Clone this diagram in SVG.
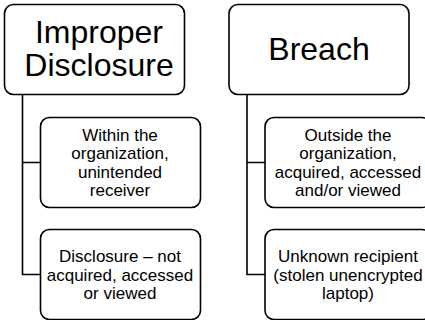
<svg xmlns="http://www.w3.org/2000/svg" width="425" height="320" viewBox="0 0 425 320">
<style>
.box{fill:#fff;stroke:#000;stroke-width:1.6}
.con{fill:none;stroke:#000;stroke-width:1.6}
.h{font-family:"Liberation Sans",Arial,sans-serif;font-size:32px;fill:#000;text-anchor:middle}
.t{font-family:"Liberation Sans",Arial,sans-serif;font-size:17px;fill:#000;text-anchor:middle}
</style>
<rect width="425" height="320" fill="#fff"/>
<g id="connectors">
<path class="con" d="M22.5 94.5 V274.5 H40.5 M22.5 162.5 H40.5"/>
<path class="con" d="M247 94.5 V274.5 H265 M247 162.5 H265"/>
</g>
<g id="improper">
<rect class="box" x="4.5" y="4.5" width="180" height="90" rx="9"/>
<text class="h" x="99" y="43">Improper</text>
<text class="h" x="99" y="76">Disclosure</text>
</g>
<g id="within">
<rect class="box" x="40.5" y="117.5" width="160" height="90" rx="9"/>
<text class="t" x="120" y="141">Within the</text>
<text class="t" x="120" y="159.3">organization,</text>
<text class="t" x="120" y="177.6">unintended</text>
<text class="t" x="120" y="196">receiver</text>
</g>
<g id="disclosure">
<rect class="box" x="40.5" y="229.5" width="160" height="90" rx="9"/>
<text class="t" x="120" y="262.2">Disclosure – not</text>
<text class="t" x="120" y="280.5">acquired, accessed</text>
<text class="t" x="120" y="298.8">or viewed</text>
</g>
<g id="breach">
<rect class="box" x="229" y="4.5" width="180" height="90" rx="9"/>
<text class="h" x="319" y="60">Breach</text>
</g>
<g id="outside">
<rect class="box" x="265" y="117.5" width="166" height="90" rx="9"/>
<text class="t" x="348" y="141">Outside the</text>
<text class="t" x="348" y="159.3">organization,</text>
<text class="t" x="348" y="177.6">acquired, accessed</text>
<text class="t" x="348" y="196">and/or viewed</text>
</g>
<g id="unknown">
<rect class="box" x="265" y="229.5" width="166" height="90" rx="9"/>
<text class="t" x="348" y="262.2">Unknown recipient</text>
<text class="t" x="348" y="280.5">(stolen unencrypted</text>
<text class="t" x="348" y="298.8">laptop)</text>
</g>
</svg>
